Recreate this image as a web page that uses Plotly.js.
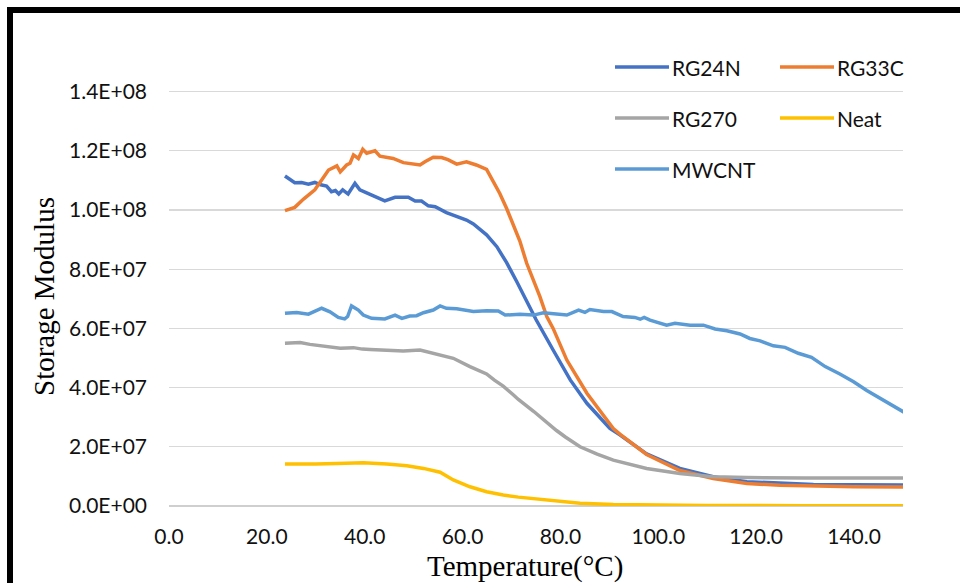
<!DOCTYPE html>
<html>
<head>
<meta charset="utf-8">
<script src="https://cdn.plot.ly/plotly-3.0.1.min.js"></script>
<style>
  html, body { margin: 0; padding: 0; background: #fff; overflow: hidden; }
  #chart { position: absolute; left: 0; top: 0; width: 960px; height: 583px; }
  /* figure frame: left and top edges */
  #frame { position: absolute; left: 7px; top: 7px; width: 980px; height: 600px;
           border-left: 6px solid #000; border-top: 6px solid #000;
           box-sizing: border-box; pointer-events: none; }
</style>
</head>
<body>
<div id="chart"></div>
<div id="frame"></div>
<script>
// Storage modulus (Pa, in units of 1E+07) versus temperature (°C)
const seriesNames = ['RG24N', 'RG33C', 'RG270', 'Neat', 'MWCNT'];
const seriesColors = ['#4472C4', '#ED7D31', '#A5A5A5', '#FFC000', '#5B9BD5'];

const tRG24N = [23.7, 25.7, 27.1, 28.5, 29.8, 31.0, 32.2, 33.2, 34.0, 34.7, 35.5, 36.6, 38.0, 39.0, 40.4, 42.1, 44.1, 46.2, 48.9, 50.3, 51.6, 53.0, 54.4, 56.7, 59.5, 60.8, 62.2, 64.9, 67.0, 69.0, 71.0, 73.0, 75.0, 78.5, 82.0, 85.4, 90.1, 92.2, 97.6, 104.4, 111.2, 118.1, 124.9, 131.7, 140.0, 151.0];
const eRG24N = [11.15, 10.92, 10.93, 10.87, 10.93, 10.85, 10.81, 10.62, 10.66, 10.54, 10.68, 10.54, 10.90, 10.68, 10.58, 10.47, 10.31, 10.43, 10.43, 10.30, 10.30, 10.14, 10.11, 9.91, 9.72, 9.66, 9.53, 9.16, 8.76, 8.22, 7.60, 6.95, 6.30, 5.27, 4.26, 3.47, 2.62, 2.40, 1.76, 1.27, 0.99, 0.82, 0.77, 0.73, 0.72, 0.71];

const tRG33C = [23.7, 25.7, 27.5, 29.8, 31.2, 32.6, 34.3, 35.0, 36.3, 37.0, 37.7, 38.7, 39.6, 40.4, 42.1, 43.1, 45.8, 47.9, 51.3, 52.3, 54.0, 55.7, 57.0, 58.8, 60.8, 62.8, 64.9, 66.3, 67.6, 69.0, 70.4, 71.7, 73.1, 75.8, 77.2, 78.5, 81.3, 85.4, 90.8, 92.2, 97.6, 104.4, 111.2, 118.1, 124.9, 131.7, 140.0, 151.0];
const eRG33C = [9.98, 10.09, 10.37, 10.68, 11.01, 11.35, 11.49, 11.29, 11.52, 11.58, 11.86, 11.74, 12.05, 11.92, 12.00, 11.82, 11.74, 11.60, 11.52, 11.63, 11.78, 11.77, 11.70, 11.55, 11.63, 11.52, 11.37, 10.96, 10.56, 10.05, 9.44, 8.95, 8.20, 7.07, 6.40, 6.00, 4.93, 3.81, 2.62, 2.42, 1.74, 1.20, 0.93, 0.76, 0.70, 0.67, 0.65, 0.64];

const tRG270 = [23.7, 26.8, 28.8, 30.5, 32.9, 35.0, 37.7, 39.5, 41.1, 44.5, 47.9, 51.3, 53.5, 56.1, 58.1, 61.5, 64.9, 66.5, 68.3, 70.4, 71.4, 74.5, 77.2, 79.2, 81.0, 84.0, 87.5, 90.8, 97.6, 104.4, 111.2, 118.0, 130.0, 151.0];
const eRG270 = [5.50, 5.52, 5.46, 5.42, 5.38, 5.33, 5.35, 5.30, 5.29, 5.27, 5.24, 5.27, 5.18, 5.10, 4.99, 4.71, 4.46, 4.25, 4.05, 3.75, 3.60, 3.20, 2.82, 2.55, 2.33, 2.00, 1.75, 1.55, 1.27, 1.10, 0.99, 0.96, 0.95, 0.95];

const tNeat = [23.7, 27.5, 30.0, 34.3, 39.7, 44.5, 48.6, 52.0, 55.4, 58.1, 61.5, 64.9, 68.3, 71.4, 77.2, 84.0, 90.8, 100.0, 110.0, 130.0, 151.0];
const eNeat = [1.42, 1.41, 1.42, 1.44, 1.46, 1.42, 1.36, 1.27, 1.14, 0.88, 0.65, 0.48, 0.37, 0.30, 0.20, 0.09, 0.05, 0.03, 0.02, 0.01, 0.01];

const tMWCNT = [23.7, 26.1, 28.5, 31.2, 32.9, 34.6, 35.9, 36.5, 37.3, 38.7, 39.7, 41.4, 44.1, 46.2, 47.6, 49.2, 50.6, 52.0, 54.0, 55.4, 56.7, 58.8, 62.2, 64.9, 67.3, 68.7, 71.7, 74.5, 76.5, 81.3, 83.7, 85.0, 86.0, 88.8, 90.5, 92.8, 95.2, 96.3, 97.1, 98.3, 101.7, 103.4, 106.5, 109.2, 111.6, 114.0, 116.7, 118.7, 120.8, 123.5, 125.9, 128.6, 131.3, 134.1, 137.1, 139.9, 142.6, 145.3, 148.0, 150.4];
const eMWCNT = [6.51, 6.54, 6.48, 6.68, 6.56, 6.37, 6.32, 6.40, 6.76, 6.62, 6.45, 6.34, 6.32, 6.45, 6.34, 6.42, 6.43, 6.53, 6.62, 6.76, 6.68, 6.66, 6.57, 6.60, 6.59, 6.45, 6.48, 6.45, 6.53, 6.45, 6.62, 6.54, 6.64, 6.57, 6.57, 6.40, 6.37, 6.31, 6.37, 6.28, 6.11, 6.17, 6.11, 6.11, 5.98, 5.92, 5.81, 5.66, 5.58, 5.41, 5.36, 5.16, 5.02, 4.71, 4.46, 4.20, 3.90, 3.64, 3.41, 3.15];

const UNIT = 1e7;
const xTickVals = [0, 20, 40, 60, 80, 100, 120, 140];
const xTickText = ['0.0', '20.0', '40.0', '60.0', '80.0', '100.0', '120.0', '140.0'];
const yTickVals = [0, 2e7, 4e7, 6e7, 8e7, 1e8, 1.2e8, 1.4e8];
const yTickText = ['0.0E+00', '2.0E+07', '4.0E+07', '6.0E+07', '8.0E+07', '1.0E+08', '1.2E+08', '1.4E+08'];
const xTitle = 'Temperature(°C)';
const yTitle = 'Storage Modulus';

const temps = [tRG24N, tRG33C, tRG270, tNeat, tMWCNT];
const moduli = [eRG24N, eRG33C, eRG270, eNeat, eMWCNT];

const traces = seriesNames.map((name, i) => ({
  type: 'scatter',
  mode: 'lines',
  name: name,
  x: temps[i],
  y: moduli[i].map(v => v * UNIT),
  line: { color: seriesColors[i], width: 3.5 },
  showlegend: false,
  hoverinfo: 'x+y+name'
}));

// Plot area geometry in pixels (used for the legend block and titles)
const W = 960, H = 583;
const M = { l: 169, r: 57, t: 62, b: 77 };
const plotW = W - M.l - M.r, plotH = H - M.t - M.b;
const px = x => (x - M.l) / plotW;
const py = y => (H - M.b - y) / plotH;

const sansFont = 'Lato, sans-serif';
const serifFont = 'Liberation Serif, Times New Roman, serif';

// Two-column legend block inside the plot, top right
const legendCols = [615, 780];
const legendRows = [67, 118, 169];
const legendSlots = [[0, 0], [1, 0], [0, 1], [1, 1], [0, 2]];
const shapes = [];
const annotations = [];
seriesNames.forEach((name, i) => {
  const lx = legendCols[legendSlots[i][0]];
  const ly = legendRows[legendSlots[i][1]];
  shapes.push({
    type: 'line', xref: 'paper', yref: 'paper',
    x0: px(lx), x1: px(lx + 54), y0: py(ly), y1: py(ly),
    line: { color: seriesColors[i], width: 3.5 }
  });
  annotations.push({
    xref: 'paper', yref: 'paper', x: px(lx + 55), y: py(ly),
    xanchor: 'left', yanchor: 'middle', showarrow: false,
    text: name, font: { family: sansFont, size: 21, color: '#111' }
  });
});

// Axis titles
annotations.push({
  xref: 'paper', yref: 'paper', x: px(525), y: py(566),
  xanchor: 'center', yanchor: 'middle', showarrow: false,
  text: xTitle, font: { family: serifFont, size: 29, color: '#000' }
});
annotations.push({
  xref: 'paper', yref: 'paper', x: px(44), y: py(297),
  xanchor: 'center', yanchor: 'middle', showarrow: false, textangle: -90,
  text: yTitle, font: { family: serifFont, size: 29, color: '#000' }
});

const layout = {
  width: W, height: H,
  margin: M,
  paper_bgcolor: '#fff',
  plot_bgcolor: '#fff',
  showlegend: false,
  xaxis: {
    range: [0, 150],
    tickvals: xTickVals, ticktext: xTickText,
    showgrid: false, zeroline: false, showline: false, ticks: '',
    ticklabelstandoff: 16,
    tickfont: { family: sansFont, size: 21, color: '#111' }
  },
  yaxis: {
    range: [0, 1.5e8],
    tickvals: yTickVals, ticktext: yTickText,
    showgrid: true, gridcolor: '#d9d9d9', gridwidth: 1.3,
    zeroline: true, zerolinecolor: '#cfcfcf', zerolinewidth: 1.5,
    showline: false, ticks: '',
    ticklabelstandoff: 21,
    tickfont: { family: sansFont, size: 21, color: '#111' }
  },
  shapes: shapes,
  annotations: annotations
};

Plotly.newPlot('chart', traces, layout, { displayModeBar: false, staticPlot: true });
</script>
</body>
</html>
